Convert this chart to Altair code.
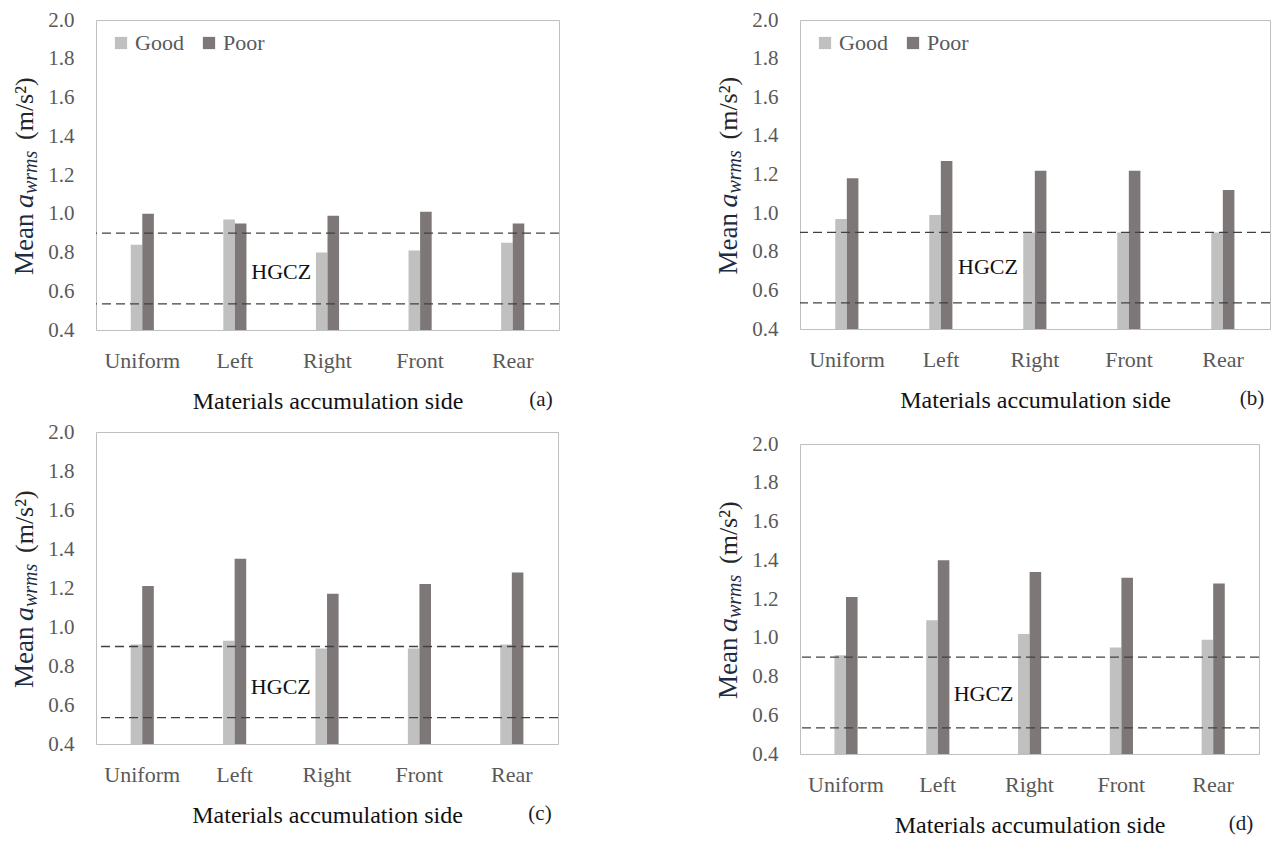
import altair as alt
import pandas as pd

categories = ["Uniform", "Left", "Right", "Front", "Rear"]
conditions = ["Good", "Poor"]

good_a = [0.84, 0.97, 0.80, 0.81, 0.85]
poor_a = [1.00, 0.95, 0.99, 1.01, 0.95]
good_b = [0.97, 0.99, 0.90, 0.90, 0.90]
poor_b = [1.18, 1.27, 1.22, 1.22, 1.12]
good_c = [0.91, 0.93, 0.89, 0.89, 0.91]
poor_c = [1.21, 1.35, 1.17, 1.22, 1.28]
good_d = [0.91, 1.09, 1.02, 0.95, 0.99]
poor_d = [1.21, 1.40, 1.34, 1.31, 1.28]

hgcz_limits = [0.90, 0.535]
hgcz_text_y = [0.70, 0.72, 0.69, 0.71]
panel_tags = ["(a)", "(b)", "(c)", "(d)"]
y_ticks = [0.4, 0.6, 0.8, 1.0, 1.2, 1.4, 1.6, 1.8, 2.0]

FONT = "Liberation Serif, Times New Roman, DejaVu Serif, serif"
GOOD = "#c0c0c0"
POOR = "#7d7777"
TICK = "#595959"
NAVY = "#1d2b45"

# (text, size, style, offset from centre, x shift, colour)
title_pieces = [
    ("Mean", 27, "normal", 100, 0, NAVY),
    ("a", 28, "italic", 33, 0, NAVY),
    ("wrms", 20, "italic", 19, 4, NAVY),
    ("(m/s\u00b2)", 26, "normal", -35, 0, "#262626"),
]

X_AXIS = alt.Axis(
    title="Materials accumulation side", labelAngle=0, labelFont=FONT,
    labelFontSize=22, labelColor=TICK, labelPadding=20, domain=False,
    ticks=False, tickSize=0, grid=False, labelOverlap=False,
    titleFont=FONT, titleFontSize=24,
    titleFontWeight="normal", titleColor="#111111", titlePadding=18,
)
Y_AXIS = alt.Axis(
    values=y_ticks, format=".1f", title="", labelFont=FONT,
    labelFontSize=21, labelColor=TICK, labelPadding=22, domain=False,
    ticks=False, tickSize=0, grid=False, labelOverlap=False,
)


def panel(good, poor, tag, text_y, w, h):
    bars_df = pd.DataFrame({
        "side": categories * 2,
        "cond": ["Good"] * 5 + ["Poor"] * 5,
        "value": good + poor,
    })
    xscale = alt.Scale(domain=categories, paddingInner=0.75, paddingOuter=0.375)
    yscale = alt.Scale(domain=[0.4, 2.0], nice=False, zero=False)
    bars = alt.Chart(bars_df).mark_bar().encode(
        x=alt.X("side:N", sort=categories, scale=xscale, axis=X_AXIS),
        xOffset=alt.XOffset("cond:N", sort=conditions,
                            scale=alt.Scale(domain=conditions, paddingInner=0, paddingOuter=0)),
        y=alt.Y("value:Q", scale=yscale, axis=Y_AXIS),
        y2=alt.datum(0.4),
        color=alt.Color(
            "cond:N",
            scale=alt.Scale(domain=conditions, range=[GOOD, POOR]),
            legend=alt.Legend(
                title=None, orient="none", legendX=14, legendY=12,
                direction="horizontal", symbolType="square", symbolSize=150,
                labelFont=FONT, labelFontSize=22, labelColor=TICK,
                columnPadding=14, labelOffset=3, symbolStrokeWidth=0,
            ),
        ),
    )
    rules = alt.Chart(pd.DataFrame({"value": hgcz_limits})).mark_rule(
        strokeDash=[9, 5], color="#404040", strokeWidth=1.3
    ).encode(y=alt.Y("value:Q", scale=yscale, axis=Y_AXIS))

    hgcz = alt.Chart(pd.DataFrame({"side": ["Left"], "value": [text_y], "t": ["HGCZ"]})).mark_text(
        font=FONT, fontSize=22, color="#111111", dx=w / 10
    ).encode(
        x=alt.X("side:N", sort=categories, scale=xscale, axis=X_AXIS),
        y=alt.Y("value:Q", scale=yscale, axis=Y_AXIS),
        text="t:N",
    )

    layers = [bars, rules, hgcz]
    for txt, size, style, off, xs, col in title_pieces:
        layers.append(
            alt.Chart(pd.DataFrame({"t": [txt]})).mark_text(
                font=FONT, fontSize=size, fontStyle=style, color=col,
                angle=270, align="left", baseline="alphabetic",
            ).encode(text="t:N", x=alt.value(-63 + xs), y=alt.value(h / 2 + off))
        )
    layers.append(
        alt.Chart(pd.DataFrame({"t": [tag]})).mark_text(
            font=FONT, fontSize=21, color="#1a1a2a", baseline="middle", align="center"
        ).encode(text="t:N", x=alt.value(w - 18), y=alt.value(h + 70))
    )
    return alt.layer(*layers).properties(width=w, height=h)


pa = panel(good_a, poor_a, panel_tags[0], hgcz_text_y[0], 463, 310)
pb = panel(good_b, poor_b, panel_tags[1], hgcz_text_y[1], 470, 309)
pc = panel(good_c, poor_c, panel_tags[2], hgcz_text_y[2], 462, 312)
pd_ = panel(good_d, poor_d, panel_tags[3], hgcz_text_y[3], 459, 310)

col1 = alt.vconcat(pa, pc, spacing=6)
col2 = alt.vconcat(pb, pd_, spacing=19)

chart = (
    alt.hconcat(col1, col2, spacing=153)
    .resolve_scale(color="independent")
    .resolve_legend(color="independent")
    .properties(padding={"left": 2, "top": 0, "right": 0, "bottom": 0}, background="white")
    .configure_view(stroke="#bfbfbf", strokeWidth=1)
    .configure_axis(labelOverlap=False)
)

chart.save("out.html", embed_options={"renderer": "svg", "actions": False})
